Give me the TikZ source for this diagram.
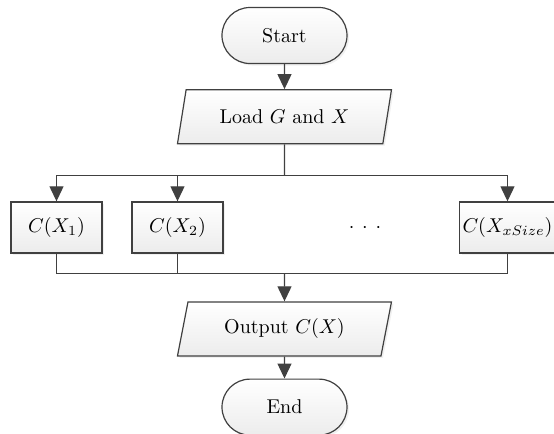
\documentclass[tikz,border=0pt]{standalone}
\usepackage{tikz}
\usetikzlibrary{shapes.geometric, arrows.meta, positioning, shadows}
\usepackage{xcolor}
\definecolor{linegray}{HTML}{404040}

\begin{document}
\begin{tikzpicture}[
    box/.style={draw=linegray, line width=0.6pt, top color=white, bottom color=gray!15,
        drop shadow={shadow xshift=1pt, shadow yshift=-1pt, opacity=0.15, fill=gray!80}},
    term/.style={box, rounded corners=14pt, minimum width=62.5pt, minimum height=28pt},
    io/.style={box, trapezium, trapezium left angle=72.5, trapezium right angle=107.5,
        trapezium stretches body, minimum width=107pt, minimum height=27pt},
    proc/.style={box, minimum width=45.5pt, minimum height=25.5pt, inner sep=1.5pt},
    line/.style={draw=linegray, line width=0.6pt},
    arrow/.style={line, -{Triangle[length=7.5pt, width=7pt]}}
]
\useasboundingbox (-142.25pt,17.75pt) rectangle (134.75pt,-199.25pt);

\node[term] (start) {Start};
\node[io, below=12.5pt of start] (load) {Load $G$ and $X$};
\node[proc, below=28.5pt of load, xshift=-114pt] (c1) {$C(X_1)$};
\node[proc, below=28.5pt of load, xshift=-53.5pt] (c2) {$C(X_2)$};
\node[below=36pt of load, xshift=40.25pt] (dots) {$\cdot$\hspace{3.9pt}$\cdot$\hspace{3.9pt}$\cdot$};
\node[proc, below=28.5pt of load, xshift=111.5pt, minimum width=43pt] (cn) {$C(X_{xSize})$};
\node[io, below=78.5pt of load] (output) {Output $C(X)$};
\node[term, below=11pt of output] (end) {End};

\coordinate[below=15.5pt of load] (fork);
\coordinate[above=14pt of output] (join);

\draw[arrow] (start) -- (load);
\draw[line] (load) -- (fork);
\draw[arrow] (fork) -| (c1);
\draw[arrow] (fork) -| (c2);
\draw[arrow] (fork) -| (cn);
\draw[line] (c1) |- (join);
\draw[line] (c2) |- (join);
\draw[line] (cn) |- (join);
\draw[arrow] (join) -- (output);
\draw[arrow] (output) -- (end);

\end{tikzpicture}
\end{document}
